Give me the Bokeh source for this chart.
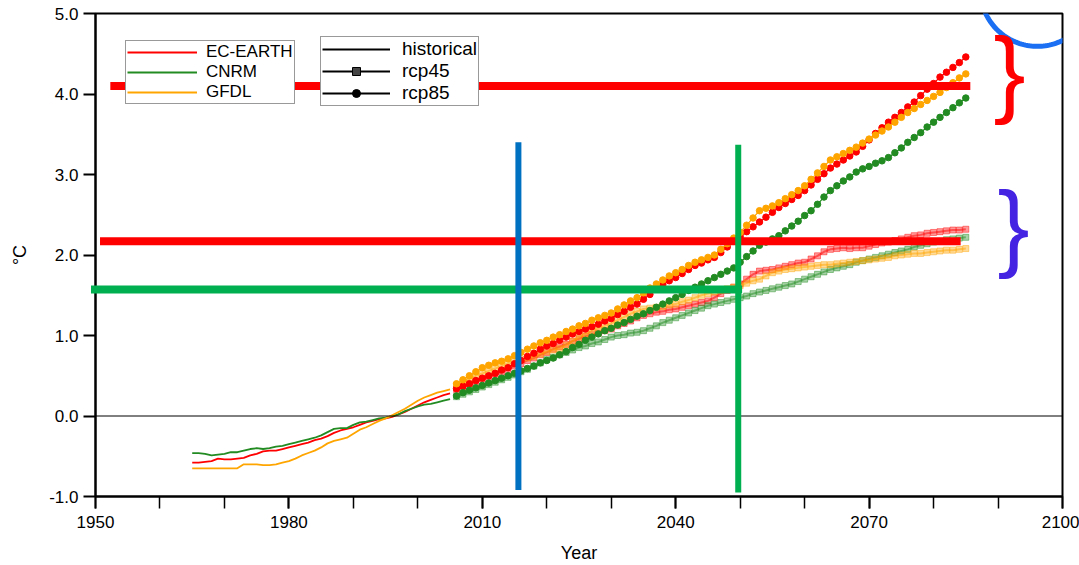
import numpy as np
from bokeh.plotting import figure
from bokeh.models import (Range1d, FixedTicker, NumeralTickFormatter, Span, Legend,
                          LegendItem, Label, PolyAnnotation)
from bokeh.embed import file_html
from bokeh.resources import INLINE

# ---------------- data ----------------
models = ["EC-EARTH", "CNRM", "GFDL"]
model_colors = ["#ff0000", "#228b22", "#ffa500"]
scenarios = ["historical", "rcp45", "rcp85"]

hist_years = list(range(1965, 2006))
rcp_years = list(range(2006, 2086))

ec_hist = [-0.58, -0.58, -0.57, -0.56, -0.53, -0.54, -0.54, -0.53, -0.52, -0.49,
           -0.47, -0.44, -0.43, -0.43, -0.41, -0.39, -0.37, -0.35, -0.33, -0.30,
           -0.28, -0.25, -0.21, -0.18, -0.16, -0.14, -0.11, -0.08, -0.06, -0.04,
           -0.03, -0.01, 0.02, 0.05, 0.09, 0.13, 0.17, 0.20, 0.23, 0.26, 0.28]
cnrm_hist = [-0.46, -0.46, -0.47, -0.49, -0.48, -0.47, -0.45, -0.45, -0.43, -0.41,
             -0.40, -0.41, -0.40, -0.38, -0.37, -0.35, -0.33, -0.31, -0.29, -0.27,
             -0.24, -0.20, -0.16, -0.15, -0.15, -0.11, -0.08, -0.07, -0.05, -0.03,
             -0.02, 0.00, 0.02, 0.06, 0.09, 0.12, 0.14, 0.15, 0.17, 0.19, 0.21]
gfdl_hist = [-0.65, -0.65, -0.65, -0.65, -0.65, -0.65, -0.65, -0.65, -0.60, -0.60,
             -0.60, -0.61, -0.61, -0.60, -0.58, -0.56, -0.53, -0.49, -0.46, -0.43,
             -0.39, -0.34, -0.31, -0.29, -0.27, -0.22, -0.17, -0.14, -0.10, -0.06,
             -0.03, 0.01, 0.05, 0.09, 0.14, 0.19, 0.23, 0.26, 0.29, 0.31, 0.33]

ec_rcp45 = [0.33, 0.36, 0.40, 0.43, 0.46, 0.49, 0.52, 0.55, 0.58, 0.62,
            0.65, 0.69, 0.72, 0.76, 0.79, 0.83, 0.86, 0.89, 0.93, 0.96,
            0.99, 1.01, 1.03, 1.06, 1.08, 1.12, 1.15, 1.18, 1.22, 1.25,
            1.27, 1.29, 1.30, 1.32, 1.33, 1.35, 1.37, 1.39, 1.41, 1.43,
            1.47, 1.52, 1.56, 1.60, 1.64, 1.70, 1.76, 1.80, 1.81, 1.82,
            1.84, 1.86, 1.88, 1.90, 1.91, 1.95, 1.99, 2.04, 2.07, 2.08,
            2.09, 2.08, 2.09, 2.09, 2.11, 2.13, 2.15, 2.16, 2.18,
            2.20, 2.22, 2.24, 2.25, 2.27, 2.28, 2.29, 2.30, 2.31, 2.31, 2.32]
cnrm_rcp45 = [0.24, 0.27, 0.30, 0.33, 0.36, 0.39, 0.42, 0.45, 0.48, 0.51,
              0.55, 0.58, 0.62, 0.66, 0.70, 0.73, 0.76, 0.79, 0.82, 0.85,
              0.87, 0.90, 0.92, 0.95, 0.98, 1.00, 1.01, 1.03, 1.04, 1.06,
              1.09, 1.12, 1.16, 1.19, 1.22, 1.25, 1.28, 1.31, 1.34, 1.37,
              1.39, 1.41, 1.43, 1.45, 1.47, 1.49, 1.52, 1.54, 1.56, 1.58,
              1.60, 1.62, 1.64, 1.67, 1.70, 1.73, 1.76, 1.79, 1.82, 1.84,
              1.86, 1.88, 1.91, 1.93, 1.95, 1.97, 1.99, 2.01, 2.03,
              2.05, 2.07, 2.10, 2.12, 2.14, 2.16, 2.17, 2.19, 2.20, 2.21, 2.22]
gfdl_rcp45 = [0.38, 0.42, 0.46, 0.50, 0.53, 0.56, 0.59, 0.62, 0.65, 0.68,
              0.70, 0.72, 0.74, 0.77, 0.80, 0.82, 0.84, 0.88, 0.93, 0.98,
              1.02, 1.06, 1.09, 1.12, 1.15, 1.19, 1.23, 1.27, 1.30, 1.33,
              1.34, 1.35, 1.36, 1.38, 1.39, 1.42, 1.44, 1.47, 1.50, 1.52,
              1.54, 1.56, 1.58, 1.60, 1.62, 1.65, 1.68, 1.70, 1.74, 1.78,
              1.80, 1.82, 1.83, 1.84, 1.85, 1.86, 1.87, 1.88, 1.88, 1.89,
              1.90, 1.91, 1.92, 1.93, 1.94, 1.95, 1.96, 1.97, 1.99,
              2.00, 2.01, 2.02, 2.02, 2.03, 2.04, 2.05, 2.06, 2.06, 2.07, 2.08]

ec_rcp85 = [0.34, 0.37, 0.40, 0.44, 0.47, 0.50, 0.53, 0.57, 0.60,
            0.65, 0.69, 0.74, 0.78, 0.83, 0.87, 0.90, 0.94, 0.98, 1.02,
            1.05, 1.08, 1.11, 1.14, 1.18, 1.21, 1.26, 1.30, 1.35, 1.39,
            1.45, 1.51, 1.58, 1.63, 1.68, 1.72, 1.77, 1.82, 1.87, 1.90, 1.94, 1.97,
            2.03, 2.10, 2.17, 2.23, 2.29, 2.35, 2.41, 2.47, 2.53,
            2.59, 2.64, 2.69, 2.74, 2.80, 2.87, 2.94, 3.01, 3.08,
            3.13, 3.18, 3.23, 3.28, 3.35, 3.43, 3.51, 3.58, 3.65,
            3.71, 3.77, 3.84, 3.90, 3.98, 4.06, 4.13, 4.21, 4.27, 4.33, 4.39, 4.46]
cnrm_rcp85 = [0.25, 0.29, 0.32, 0.35, 0.38, 0.41, 0.44, 0.47, 0.50, 0.53,
              0.56, 0.59, 0.62, 0.66, 0.69, 0.72, 0.76, 0.80, 0.85, 0.89,
              0.94, 0.98, 1.02, 1.06, 1.09, 1.13, 1.16, 1.20, 1.24, 1.27,
              1.31, 1.35, 1.39, 1.43, 1.47, 1.51, 1.56, 1.60, 1.64, 1.68,
              1.72, 1.76, 1.80, 1.84, 1.91, 1.98, 2.05, 2.12, 2.16, 2.20,
              2.24, 2.30, 2.36, 2.42, 2.49, 2.55, 2.63, 2.72, 2.80, 2.86,
              2.92, 2.97, 3.03, 3.07, 3.10, 3.14, 3.17, 3.21, 3.27, 3.33,
              3.40, 3.46, 3.52, 3.59, 3.65, 3.71, 3.77, 3.83, 3.89, 3.95]
gfdl_rcp85 = [0.40, 0.45, 0.50, 0.55, 0.60, 0.63, 0.66, 0.68, 0.71,
              0.75, 0.79, 0.83, 0.87, 0.91, 0.94, 0.98, 1.01, 1.05, 1.08,
              1.12, 1.15, 1.19, 1.22, 1.25, 1.28, 1.33, 1.38, 1.43, 1.47,
              1.53, 1.59, 1.64, 1.69, 1.74, 1.78, 1.82, 1.87, 1.91, 1.94, 1.97, 2.00,
              2.07, 2.14, 2.21, 2.28, 2.37, 2.46, 2.55, 2.58, 2.61,
              2.65, 2.70, 2.75, 2.80, 2.86, 2.94, 3.02, 3.10, 3.18,
              3.22, 3.26, 3.30, 3.34, 3.39, 3.44, 3.49, 3.54, 3.59,
              3.65, 3.71, 3.77, 3.82, 3.87, 3.92, 3.97, 4.02, 4.08, 4.14, 4.20, 4.25]

hist_series = [ec_hist, cnrm_hist, gfdl_hist]
rcp45_series = [ec_rcp45, cnrm_rcp45, gfdl_rcp45]
rcp85_series = [ec_rcp85, cnrm_rcp85, gfdl_rcp85]

x_ticks = [1950, 1980, 2010, 2040, 2070, 2100]
x_minor_ticks = [1950, 1960, 1970, 1980, 1990, 2000, 2010, 2020, 2030, 2040,
                 2050, 2060, 2070, 2080, 2090, 2100]
y_ticks = [-1, 0, 1, 2, 3, 4, 5]

# hand-drawn highlight overlays (year, degC)
red_bar_hi = [1952.3, 2085.7, 4.10]
red_bar_lo = [1950.7, 2084.2, 2.17]
green_bar = [1949.3, 2050.3, 1.57]
blue_vline = [2015.6, -0.92, 3.40]
green_vline = [2049.7, -0.95, 3.37]
brace_red = [2091.8, 4.28]
brace_blue = [2092.4, 2.37]
circle_spec = [2096.1, 5.30, 8.85, 0.708]

FONT = "Liberation Sans"

p = figure(frame_width=967, frame_height=483,
           min_border_left=95, min_border_right=17, min_border_top=13, min_border_bottom=69,
           x_range=Range1d(1950, 2100), y_range=Range1d(-1, 5),
           output_backend="svg", toolbar_location=None,
           background_fill_color="white", border_fill_color="white")
p.grid.visible = False
p.outline_line_color = "black"
p.outline_line_width = 2
p.outline_line_alpha = 1

xa = p.xaxis[0]
xa.ticker = FixedTicker(ticks=x_ticks, minor_ticks=x_minor_ticks)
ya = p.yaxis[0]
ya.ticker = FixedTicker(ticks=y_ticks, minor_ticks=[])
ya.formatter = NumeralTickFormatter(format="0.0")
for ax in (xa, ya):
    ax.axis_line_width = 2
    ax.axis_line_color = "black"
    ax.major_tick_in = 0
    ax.major_tick_out = 12
    ax.major_tick_line_width = 2
    ax.minor_tick_in = 0
    ax.minor_tick_out = 12
    ax.minor_tick_line_width = 1.5
    ax.major_label_text_font = FONT
    ax.major_label_text_font_size = "17px"
    ax.major_label_text_color = "black"
    ax.axis_label_text_font = FONT
    ax.axis_label_text_font_size = "18px"
    ax.axis_label_text_font_style = "normal"
    ax.axis_label_text_color = "black"
xa.axis_label = "Year"
xa.major_label_standoff = 7
xa.axis_label_standoff = 12
ya.axis_label = "°C"
ya.major_label_standoff = 5
ya.axis_label_standoff = 16

p.add_layout(Span(location=0, dimension="width", line_color="black", line_width=1))

for col, h, r45 in zip(model_colors, hist_series, rcp45_series):
    p.line(hist_years, h, line_color=col, line_width=1.8)
    p.line(rcp_years, r45, line_color=col, line_width=2, line_alpha=0.5)
    p.scatter(rcp_years, r45, marker="square", size=6, fill_color=col, line_color=col,
              fill_alpha=0.4, line_alpha=0.45)
for col, r85 in zip(model_colors, rcp85_series):
    p.line(rcp_years, r85, line_color=col, line_width=1.2)
    p.scatter(rcp_years, r85, marker="circle", size=6.5, fill_color=col, line_color=col)

# legend proxies (placed outside the visible ranges)
px, py = [1900, 1901], [10, 10]
model_items = []
for name, col in zip(models, model_colors):
    r = p.line(px, py, line_color=col, line_width=2)
    model_items.append(LegendItem(label=name, renderers=[r]))
k_hist = p.line(px, py, line_color="black", line_width=2)
k45l = p.line(px, py, line_color="black", line_width=2)
k45m = p.scatter(px, py, marker="square", size=10, fill_color="#444444", line_color="black")
k85l = p.line(px, py, line_color="black", line_width=2)
k85m = p.scatter(px, py, marker="circle", size=11, fill_color="black", line_color="black")
scen_items = [LegendItem(label="historical", renderers=[k_hist]),
              LegendItem(label="rcp45", renderers=[k45l, k45m]),
              LegendItem(label="rcp85", renderers=[k85l, k85m])]

leg1 = Legend(items=model_items, location=(30, 392), glyph_width=70, glyph_height=20,
              label_height=20, padding=1, spacing=0, label_standoff=9, margin=0,
              border_line_color="#333333", border_line_width=1.5,
              label_text_font=FONT, label_text_font_size="17px", label_text_color="black",
              background_fill_color="white", background_fill_alpha=1)
leg2 = Legend(items=scen_items, location=(225, 390), glyph_width=68, glyph_height=20,
              label_height=20, padding=1, spacing=0, label_standoff=12, margin=0,
              border_line_color="#333333", border_line_width=1.5,
              label_text_font=FONT, label_text_font_size="19px", label_text_color="black",
              background_fill_color="white", background_fill_alpha=1)
p.add_layout(leg1)
p.add_layout(leg2)

# overlays
p.segment(x0=[red_bar_hi[0], red_bar_lo[0]], y0=[red_bar_hi[2], red_bar_lo[2]],
          x1=[red_bar_hi[1], red_bar_lo[1]], y1=[red_bar_hi[2], red_bar_lo[2]],
          line_color="#ff0000", line_width=8, level="overlay")
p.segment(x0=[green_bar[0]], y0=[green_bar[2]], x1=[green_bar[1]], y1=[green_bar[2]],
          line_color="#00b050", line_width=8, level="overlay")
p.segment(x0=[blue_vline[0]], y0=[blue_vline[1]], x1=[blue_vline[0]], y1=[blue_vline[2]],
          line_color="#0070c0", line_width=6, level="overlay")
p.segment(x0=[green_vline[0]], y0=[green_vline[1]], x1=[green_vline[0]], y1=[green_vline[2]],
          line_color="#00b050", line_width=6, level="overlay")

th = np.linspace(0, 2 * np.pi, 181)
cx, cy, rx, ry = circle_spec
p.add_layout(PolyAnnotation(xs=list(cx + rx * np.cos(th)), ys=list(cy + ry * np.sin(th)),
                            xs_units="data", ys_units="data", fill_color=None, fill_alpha=0,
                            line_color="#1a6ff2", line_alpha=1, line_width=5, level="overlay"))

for (bx, by), bcol in ((brace_red, "#ff0000"), (brace_blue, "#4423e3")):
    p.add_layout(Label(x=bx, y=by, text="}", text_font=FONT, text_font_size="96px",
                       text_color=bcol, text_align="center", text_baseline="middle",
                       level="overlay"))

open("out.html", "w").write(file_html(p, INLINE))
